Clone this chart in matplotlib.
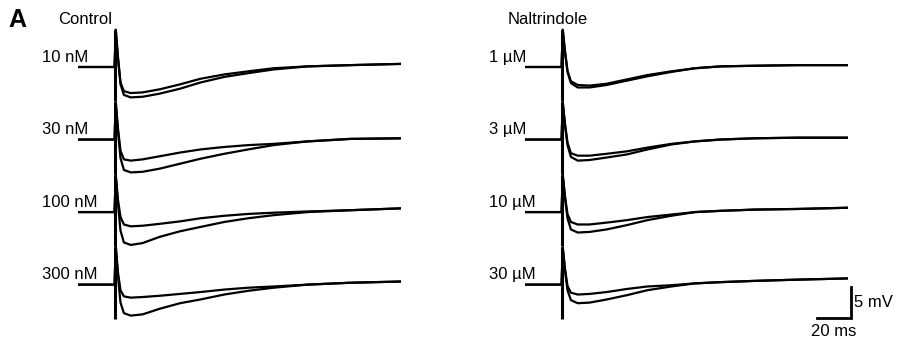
import matplotlib
matplotlib.use("Agg")
import matplotlib.pyplot as plt
import numpy as np

plt.rcParams['font.family'] = ['Liberation Sans', 'DejaVu Sans']

# Tiempo de muestreo comun para todos los trazos (ms)
t_ms = [0, 21.5, 22.2, 23.5, 25, 27, 31, 38, 48, 60, 72, 86, 100, 115, 135, 160, 190]

# Columna izquierda (Control): trazo pequeno y trazo grande por concentracion (mV)
control_labels = ["10 nM", "30 nM", "100 nM", "300 nM"]
control_small = [
    [0, 0, 6.0, 1.6, -2.5, -3.9, -4.2, -4.1, -3.6, -2.8, -1.9, -1.2, -0.7, -0.2, 0.1, 0.3, 0.5],
    [0, 0, 6.0, 1.8, -1.8, -3.2, -3.4, -3.2, -2.7, -2.1, -1.6, -1.2, -0.9, -0.7, -0.3, 0.1, 0.2],
    [0, 0, 6.0, 2.0, -0.8, -2.0, -2.3, -2.2, -1.9, -1.5, -1.0, -0.6, -0.3, -0.1, 0.1, 0.3, 0.6],
    [0, 0, 6.2, 2.0, -0.9, -1.9, -2.1, -2.0, -1.8, -1.5, -1.2, -0.8, -0.5, -0.3, 0.0, 0.3, 0.5],
]
control_large = [
    [0, 0, 6.0, 1.5, -2.8, -4.5, -4.9, -4.8, -4.3, -3.5, -2.5, -1.6, -1.0, -0.4, 0.1, 0.3, 0.5],
    [0, 0, 6.0, 1.4, -3.0, -4.9, -5.3, -5.2, -4.7, -3.9, -3.1, -2.3, -1.6, -0.9, -0.3, 0.1, 0.2],
    [0, 0, 6.0, 1.4, -3.0, -4.9, -5.3, -5.0, -4.0, -3.1, -2.4, -1.6, -1.0, -0.5, 0.0, 0.3, 0.6],
    [0, 0, 6.2, 1.4, -2.9, -4.6, -5.0, -4.8, -3.9, -3.0, -2.4, -1.6, -1.0, -0.5, 0.0, 0.3, 0.5],
]

# Columna derecha (Naltrindole)
nalt_labels = ["1 \u00b5M", "3 \u00b5M", "10 \u00b5M", "30 \u00b5M"]
nalt_small = [
    [0, 0, 6.0, 2.6, -0.6, -2.3, -2.9, -3.0, -2.7, -2.0, -1.3, -0.7, -0.2, 0.1, 0.2, 0.3, 0.3],
    [0, 0, 6.0, 2.6, -0.5, -2.2, -2.6, -2.6, -2.3, -1.9, -1.3, -0.7, -0.3, 0.0, 0.2, 0.3, 0.3],
    [0, 0, 6.0, 2.6, -0.3, -1.6, -2.0, -2.0, -1.7, -1.3, -0.8, -0.4, 0.0, 0.2, 0.4, 0.5, 0.7],
    [0, 0, 6.0, 2.6, -0.2, -1.3, -1.6, -1.5, -1.2, -0.7, -0.3, -0.1, 0.2, 0.4, 0.6, 0.8, 1.0],
]
nalt_large = [
    [0, 0, 6.0, 2.5, -0.8, -2.6, -3.3, -3.3, -2.9, -2.2, -1.5, -0.8, -0.2, 0.1, 0.2, 0.3, 0.3],
    [0, 0, 6.0, 2.4, -0.9, -2.8, -3.4, -3.3, -2.9, -2.4, -1.6, -0.8, -0.3, 0.0, 0.2, 0.3, 0.3],
    [0, 0, 6.0, 2.3, -1.0, -2.8, -3.3, -3.2, -2.8, -2.1, -1.3, -0.6, 0.0, 0.2, 0.4, 0.5, 0.7],
    [0, 0, 6.0, 2.3, -0.9, -2.5, -3.0, -2.9, -2.4, -1.7, -0.9, -0.3, 0.2, 0.4, 0.6, 0.8, 1.0],
]

# Artefacto de estimulo (mV relativo a la linea base)
stim_time = 21.5
artifact_top = 6.0
artifact_bottom = -5.5

# Barra de escala
scale_ms = 20
scale_mv = 5

W, H = 907, 346
px_ms = 1.7      # pixeles por ms
px_mv = 6.2      # pixeles por mV
row_gap = 11.7   # separacion entre filas (mV)
base_px = 67     # y de la primera linea base (pixeles)

fig = plt.figure(figsize=(W / 100, H / 100), dpi=100)


def make_axes(x0_px):
    """Crea un eje transparente con escala ms / mV"""
    width = 190 * px_ms
    ax = fig.add_axes([x0_px / W, 0, width / W, 1])
    ax.set_xlim(0, 190)
    ax.set_ylim(-(H - base_px) / px_mv, base_px / px_mv)
    ax.axis("off")
    return ax


def draw_column(ax, labels, small, large):
    """Dibuja los cuatro pares de trazos de una columna"""
    for i, lab in enumerate(labels):
        off = -i * row_gap
        ax.vlines(stim_time, artifact_bottom + off, artifact_top + off,
                  color="black", lw=2.2)
        ax.plot(t_ms, np.array(large[i]) + off, color="black", lw=1.6,
                solid_joinstyle="round")
        ax.plot(t_ms, np.array(small[i]) + off, color="black", lw=1.6,
                solid_joinstyle="round")
        ax.text(-21, off + 1.6, lab, fontsize=12, ha="left", va="center")


ax_l = make_axes(78)
ax_r = make_axes(525)

draw_column(ax_l, control_labels, control_small, control_large)
draw_column(ax_r, nalt_labels, nalt_small, nalt_large)

# Titulos de columna y letra del panel
fig.text(8 / W, 1 - 20 / H, "A", fontsize=18, fontweight="bold", va="center")
fig.text(58 / W, 1 - 20 / H, "Control", fontsize=12, va="center")
fig.text(508 / W, 1 - 20 / H, "Naltrindole", fontsize=12, va="center")

# Barra de escala en la columna derecha
sx = (851 - 525) / px_ms
sy = (base_px - 318) / px_mv
ax_r.plot([sx - scale_ms, sx, sx], [sy, sy, sy + scale_mv], color="black",
          lw=2.0, clip_on=False, solid_joinstyle="miter")
ax_r.text(sx + 2, sy + scale_mv / 2, f"{scale_mv} mV", fontsize=12,
          ha="left", va="center")
ax_r.text(sx - scale_ms / 2, sy - 0.9, f"{scale_ms} ms", fontsize=12,
          ha="center", va="top")

fig.savefig("out.png", dpi=100)
